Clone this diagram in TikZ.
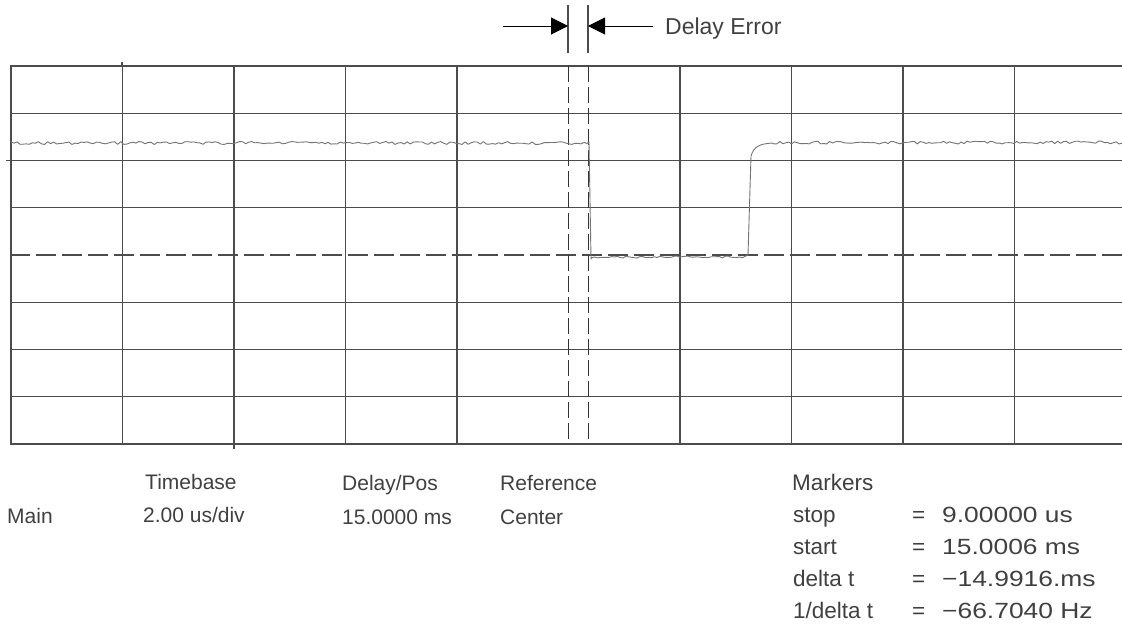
\documentclass[tikz,border=0pt]{standalone}
\usepackage{fontspec}
\setmainfont{Liberation Sans}
\newfontfamily\widefont{Liberation Sans}[FakeStretch=1.2]
\usetikzlibrary{arrows.meta}
\tikzset{
  gridline/.style={draw=black!70,line width=1.1pt},
  centerline/.style={gridline,dash pattern=on 20pt off 6pt},
  markerline/.style={draw=black!80,line width=1pt,dash pattern=on 16pt off 5pt},
  trace/.style={draw=black!55,line width=0.9pt,line join=round},
  lbl/.style={font=\fontsize{21}{25}\selectfont,text=black!75,inner sep=0pt,anchor=base west},
  mlbl/.style={lbl,font=\fontsize{22.5}{26}\selectfont},
  mval/.style={lbl,font=\fontsize{22}{26}\widefont},
  markerarrow/.style={draw=black,line width=1pt,-{Triangle[length=17pt,width=17pt]}}
}
\begin{document}
\begin{tikzpicture}[x=1pt,y=-1pt]
    \useasboundingbox (0,0) rectangle (1122,632);
    % graticule
    \foreach \r in {0,1,2,3,5,6,7,8}
        \draw[gridline] (10,66+47.25*\r) -- (1122,66+47.25*\r);
    \draw[centerline] (10,255) -- (1122,255);
    \foreach \c in {0,1,2,3,4,6,7,8,9}
        \draw[gridline] (11+111.5*\c,66) -- (11+111.5*\c,444);
    \draw[gridline] (234,444) -- (234,449) (122,66) -- (122,62) (6,160.5) -- (10,160.5);

    % markers
    \coordinate (mkA top) at (568,5);   \coordinate (mkA bot) at (568,53);
    \coordinate (mkB top) at (588,5);   \coordinate (mkB bot) at (588,53);
    \draw[gridline] (mkA top) -- (mkA bot) (mkB top) -- (mkB bot);
    \draw[markerline] (568,66) -- (568,444);
    \draw[markerline] (588,66) -- (588,444);
    \coordinate (tailA) at (503,26);  \coordinate (tipA) at (568,26);
    \coordinate (tailB) at (653,26);  \coordinate (tipB) at (588,26);
    \draw[markerarrow] (tailA) -- (tipA);
    \draw[markerarrow] (tailB) -- (tipB);
    \path (665,34) node[lbl,font=\fontsize{23}{27}\selectfont](delayerr){Delay Error};

    % trace
    \pgfmathsetseed{42}
    \draw[trace] plot[domain=11:587,samples=190] (\x,{143+1.5*rand})
        -- (589,142) -- (591,259)
        -- plot[domain=592:745,samples=55] (\x,{257+1.0*rand})
        -- (748,255) -- (751,156) .. controls (754,146) and (760,144) .. (772,143)
        -- plot[domain=774:1122,samples=120] (\x,{142.5+1.5*rand});

    % readout
    \path (145,489) node[lbl](tbhead){Timebase}
          (7,523) node[lbl](main){Main}
          (143,522) node[lbl](tbval){2.00 us/div}
          (342,490) node[lbl](dphead){Delay/Pos}
          (342,524) node[lbl](dpval){15.0000 ms}
          (500,490) node[lbl](refhead){Reference}
          (500,524) node[lbl](refval){Center};
    \path (792,490) node[mlbl](mkhead){Markers};
    \foreach \name/\val/\yy in {stop/{9.00000 us}/522,start/{15.0006 ms}/554,{delta t}/{−14.9916.ms}/586,{1/delta t}/{−66.7040 Hz}/618}{
        \path (793,\yy) node[mlbl]{\name}
              (912,\yy) node[mlbl]{=}
              (942,\yy) node[mval]{\val};
    }
\end{tikzpicture}
\end{document}
